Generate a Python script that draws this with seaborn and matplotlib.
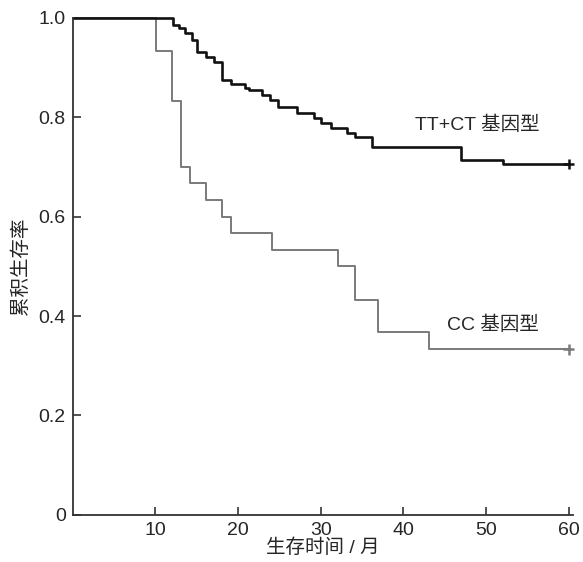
import pandas as pd
import matplotlib
matplotlib.use("Agg")
import matplotlib.pyplot as plt
import seaborn as sns

# Courbes de survie (temps en mois, survie cumulée)
tt_ct_time = [0, 12.1, 12.9, 13.6, 14.4, 15.1, 16.1, 17.1, 18.1, 19.1, 20.9, 21.3,
              22.9, 23.9, 24.9, 27.2, 29.2, 30.0, 31.2, 33.2, 34.2, 36.2, 47.0, 52.1, 60.0]
tt_ct_surv = [1.0, 0.986, 0.979, 0.970, 0.956, 0.932, 0.922, 0.912, 0.875, 0.868, 0.860, 0.855,
              0.845, 0.835, 0.821, 0.808, 0.798, 0.788, 0.778, 0.768, 0.761, 0.741, 0.714, 0.706, 0.706]

cc_time = [0, 10.1, 12.0, 13.1, 14.2, 16.1, 18.1, 19.1, 24.1, 32.1, 34.1, 37.0, 43.1, 60.0]
cc_surv = [1.0, 0.933, 0.833, 0.700, 0.667, 0.633, 0.600, 0.567, 0.533, 0.500, 0.433, 0.367,
           0.333, 0.333]

groups = ["TT+CT 基因型", "CC 基因型"]
x_ticks = [10, 20, 30, 40, 50, 60]
y_ticks = [0, 0.2, 0.4, 0.6, 0.8, 1.0]
y_ticklabels = ["0", "0.2", "0.4", "0.6", "0.8", "1.0"]


def run_plot():
    df = pd.concat([
        pd.DataFrame({"t": tt_ct_time, "s": tt_ct_surv, "g": groups[0]}),
        pd.DataFrame({"t": cc_time, "s": cc_surv, "g": groups[1]}),
    ], ignore_index=True)
    censor = pd.DataFrame({"t": [60.0, 60.0], "s": [0.706, 0.333], "g": groups})

    sns.set_theme(style="ticks")
    plt.rcParams["font.family"] = ["Liberation Sans", "Noto Sans CJK SC"]

    fig = plt.figure(figsize=(5.83, 5.62), dpi=100)
    ax = fig.add_axes([0.1245, 0.084, 0.858, 0.884])

    colors = {groups[0]: "#111111", groups[1]: "#7a7a7a"}
    sns.lineplot(data=df[df["g"] == groups[1]], x="t", y="s", color=colors[groups[1]],
                 drawstyle="steps-post", estimator=None, lw=1.4, ax=ax, legend=False)
    sns.lineplot(data=df[df["g"] == groups[0]], x="t", y="s", color=colors[groups[0]],
                 drawstyle="steps-post", estimator=None, lw=1.9, ax=ax, legend=False)
    sns.scatterplot(data=censor, x="t", y="s", hue="g", palette=colors, marker="+",
                    s=60, linewidth=1.8, ax=ax, legend=False, clip_on=False, zorder=5)
    for ln in ax.lines:
        ln.set_clip_on(False)

    ax.text(48.9, 0.785, groups[0], ha="center", va="center", fontsize=14)
    ax.text(50.8, 0.382, groups[1], ha="center", va="center", fontsize=14)

    ax.set_xlim(0, 60.5)
    ax.set_ylim(0, 1.0)
    ax.set_xticks(x_ticks)
    ax.set_yticks(y_ticks)
    ax.set_yticklabels(y_ticklabels)
    ax.tick_params(direction="in", length=6, width=1.2, labelsize=14, color="#333333", pad=5)
    ax.set_xlabel("生存时间 / 月", fontsize=14, labelpad=0)
    ax.set_ylabel("累积生存率", fontsize=14, labelpad=6)
    sns.despine(ax=ax)
    for sp in ("left", "bottom"):
        ax.spines[sp].set_linewidth(1.3)
        ax.spines[sp].set_color("#333333")

    fig.savefig("out.png", dpi=100)


if __name__ == "__main__":
    run_plot()
